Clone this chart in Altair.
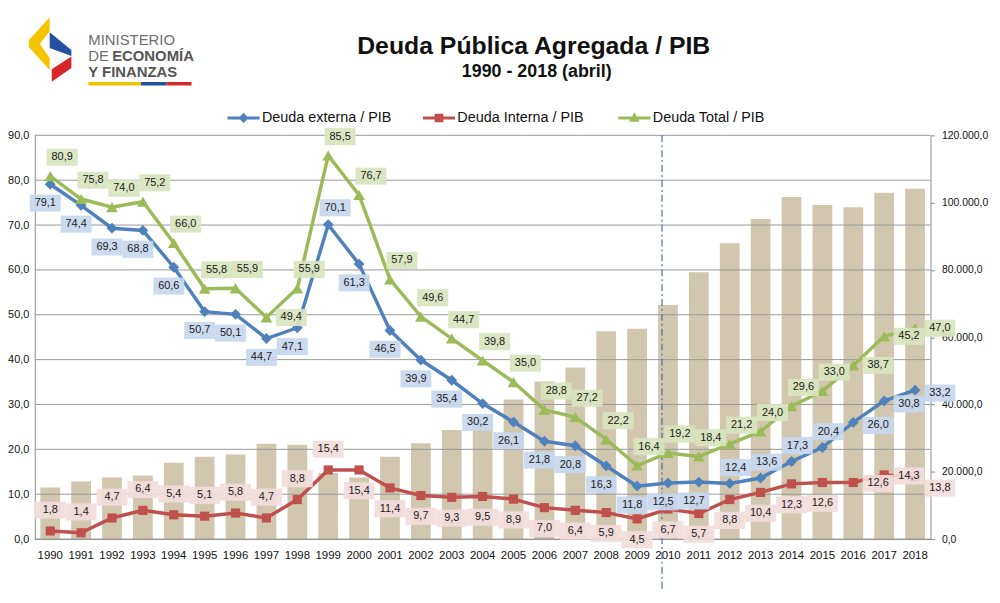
import altair as alt
import pandas as pd

years = ["1990", "1991", "1992", "1993", "1994", "1995", "1996", "1997", "1998", "1999",
         "2000", "2001", "2002", "2003", "2004", "2005", "2006", "2007", "2008", "2009",
         "2010", "2011", "2012", "2013", "2014", "2015", "2016", "2017", "2018"]
pib = [15300, 17100, 18300, 18900, 22700, 24500, 25100, 28300, 28000, 19600,
       18300, 24500, 28500, 32400, 36600, 41500, 46800, 51000, 61800, 62500,
       69600, 79300, 87900, 95100, 101700, 99300, 98600, 102900, 104100]
externa = [79.1, 74.4, 69.3, 68.8, 60.6, 50.7, 50.1, 44.7, 47.1, 70.1,
           61.3, 46.5, 39.9, 35.4, 30.2, 26.1, 21.8, 20.8, 16.3, 11.8,
           12.5, 12.7, 12.4, 13.6, 17.3, 20.4, 26.0, 30.8, 33.2]
interna = [1.8, 1.4, 4.7, 6.4, 5.4, 5.1, 5.8, 4.7, 8.8, 15.4,
           15.4, 11.4, 9.7, 9.3, 9.5, 8.9, 7.0, 6.4, 5.9, 4.5,
           6.7, 5.7, 8.8, 10.4, 12.3, 12.6, 12.6, 14.3, 13.8]
total = [80.9, 75.8, 74.0, 75.2, 66.0, 55.8, 55.9, 49.4, 55.9, 85.5,
         76.7, 57.9, 49.6, 44.7, 39.8, 35.0, 28.8, 27.2, 22.2, 16.4,
         19.2, 18.4, 21.2, 24.0, 29.6, 33.0, 38.7, 45.2, 47.0]
series = ["Deuda externa / PIB", "Deuda Interna / PIB", "Deuda Total / PIB"]
colors = ["#4F81BD", "#C0504D", "#9BBB59"]
box_colors = ["#C6D7EE", "#F2DCDB", "#D8E4BE"]
left_ticks = [0, 10, 20, 30, 40, 50, 60, 70, 80, 90]
right_ticks = [0, 20000, 40000, 60000, 80000, 100000, 120000]
title = "Deuda Pública Agregada / PIB"
subtitle = "1990 - 2018 (abril)"

FONT = "Liberation Sans"

bars_df = pd.DataFrame({"year": years, "pib": pib})
rows = []
for name, vals in zip(series, [externa, interna, total]):
    for y, v in zip(years, vals):
        rows.append({"year": y, "yr": int(y), "serie": name, "value": v})
df = pd.DataFrame(rows)
grid_df = pd.DataFrame({"value": left_ticks})
vline_df = pd.DataFrame({"year": ["2010"], "value": [90], "bot": [-11.5]})

xscale = alt.Scale(domain=years, paddingInner=0.36, paddingOuter=0.18)
X = alt.X("year:N", scale=xscale,
          axis=alt.Axis(title=None, labelAngle=0, ticks=False, domainColor="#8c8c8c",
                        labelFontSize=11.5, labelColor="#111111", labelPadding=11,
                        labelFont=FONT))
Y = alt.Y("value:Q", scale=alt.Scale(domain=[0, 90], nice=False),
          axis=alt.Axis(title=None, values=left_ticks, grid=False, ticks=False,
                        domainColor="#8c8c8c", labelFontSize=11, labelColor="#111111",
                        labelPadding=6, labelFont=FONT,
                        labelExpr="replace(format(datum.value, '.1f'), '.', ',')"))

bars = alt.Chart(bars_df).mark_bar(color="#D1C7AF").encode(
    x=X,
    y=alt.Y("pib:Q", scale=alt.Scale(domain=[0, 120000], nice=False),
            axis=alt.Axis(title=None, orient="right", values=right_ticks, grid=False,
                          tickColor="#8c8c8c", tickSize=4, domainColor="#8c8c8c",
                          labelFontSize=10.5, labelColor="#111111", labelPadding=7,
                          labelFont=FONT,
                          labelExpr="replace(replace(replace(format(datum.value, ',.1f'), ',', '#'), '.', ','), '#', '.')")),
)

grid = alt.Chart(grid_df).mark_rule(color="#999999", strokeWidth=1).encode(y=Y)

vline = alt.Chart(vline_df).mark_rule(color="#4a6fa5", strokeWidth=1.2,
                                       strokeDash=[7, 3, 2, 3], xOffset=-6).encode(
    x=X, y=Y, y2="bot:Q")

cscale = alt.Scale(domain=series, range=colors)

# one line + marker layer per series (fixed colours)
series_layers = []
for name, col, shp, sz in zip(series, colors, ["diamond", "square", "triangle-up"], [120, 85, 140]):
    base = alt.Chart(df).transform_filter(alt.datum.serie == name)
    series_layers.append(base.mark_line(strokeWidth=3.5, color=col).encode(x=X, y=Y))
for name, col, shp, sz in zip(series, colors, ["diamond", "square", "triangle-up"], [120, 85, 140]):
    base = alt.Chart(df).transform_filter(alt.datum.serie == name)
    series_layers.append(base.mark_point(shape=shp, size=sz, filled=True, color=col,
                                         opacity=1, strokeWidth=0).encode(x=X, y=Y))

# legend (line segment + marker symbols), drawn from an invisible layer
legend_paths = [
    "M-1,-0.09H1V0.09H-1ZM0,-0.32L0.32,0L0,0.32L-0.32,0Z",
    "M-1,-0.09H1V0.09H-1ZM-0.27,-0.27H0.27V0.27H-0.27Z",
    "M-1,-0.09H1V0.09H-1ZM0,-0.36L0.33,0.24L-0.33,0.24Z",
]
leg = alt.Legend(title=None, orient="none", legendX=194, legendY=-34,
                 direction="horizontal", columns=3, gridAlign="all",
                 columnPadding=31, symbolSize=1050, symbolStrokeWidth=0,
                 symbolOpacity=1, labelFontSize=14.5, labelFont=FONT,
                 labelColor="#111111", labelOffset=2)
legend_layer = alt.Chart(df).mark_point(filled=True, size=10, opacity=0).encode(
    x=X, y=Y,
    color=alt.Color("serie:N", scale=cscale, legend=leg),
    shape=alt.Shape("serie:N", scale=alt.Scale(domain=series, range=legend_paths), legend=leg),
)

BOX = "M-0.78,-0.43H0.78V0.43H-0.78Z"


def label_layers(serie, box_color, cond, dx, dy):
    base = alt.Chart(df).transform_filter(alt.datum.serie == serie).transform_filter(cond)
    box = base.mark_point(shape=BOX, size=1600, filled=True, fill=box_color,
                          opacity=0.92, strokeWidth=0, xOffset=dx, yOffset=dy).encode(x=X, y=Y)
    txt = base.transform_calculate(
        label="replace(format(datum.value, '.1f'), '.', ',')"
    ).mark_text(dx=dx, dy=dy, fontSize=11, font=FONT, color="#1a1a1a",
                align="center", baseline="middle").encode(x=X, y=Y, text="label:N")
    return [box, txt]


label_specs = [
    # externa
    (series[0], box_colors[0], "datum.yr <= 2011 && datum.yr != 1999", -5, 19),
    (series[0], box_colors[0], "datum.yr == 1999", 7, -17),
    (series[0], box_colors[0], "datum.yr >= 2012 && datum.yr <= 2015", 6, -16),
    (series[0], box_colors[0], "datum.yr >= 2016", 25, 3),
    # interna
    (series[1], box_colors[1], "datum.yr <= 1999", 0, -21),
    (series[1], box_colors[1], "datum.yr >= 2000 && datum.yr <= 2015", 0, 21),
    (series[1], box_colors[1], "datum.yr >= 2016 && datum.yr <= 2017", 25, 1),
    (series[1], box_colors[1], "datum.yr == 2018", 25, 11),
    # total
    (series[2], box_colors[2], "datum.yr <= 2015 && datum.yr != 1997", 12, -19),
    (series[2], box_colors[2], "datum.yr == 1997 || datum.yr >= 2016", 25, 0),
]
label_layers_all = []
for spec in label_specs:
    label_layers_all += label_layers(*spec)

one = pd.DataFrame({"t": [""]})
title_txt = alt.Chart(pd.DataFrame({"t": [title]})).mark_text(
    fontSize=25, fontWeight="bold", font=FONT, color="#111111", align="center",
    baseline="alphabetic").encode(text="t:N", x=alt.value(503), y=alt.value(-82))
sub_txt = alt.Chart(pd.DataFrame({"t": [subtitle]})).mark_text(
    fontSize=18, fontWeight="bold", font=FONT, color="#111111", align="center",
    baseline="alphabetic").encode(text="t:N", x=alt.value(506), y=alt.value(-59))

logo_layers = []
for txt, x, y, w, c in [("MINISTERIO", 54, -91, "normal", "#6e6e6e"),
                        ("DE", 54, -75, "normal", "#6e6e6e"),
                        ("ECONOMÍA", 78, -75, "bold", "#555555"),
                        ("Y FINANZAS", 54, -59, "bold", "#555555")]:
    logo_layers.append(alt.Chart(pd.DataFrame({"t": [txt]})).mark_text(
        fontSize=15, fontWeight=w, font=FONT, color=c, align="left",
        baseline="alphabetic").encode(text="t:N", x=alt.value(x), y=alt.value(y)))
for c, x1, x2 in [("#F2C200", 54, 107), ("#22509E", 107, 133), ("#D62B2B", 133, 158)]:
    logo_layers.append(alt.Chart(one).mark_rule(color=c, strokeWidth=3.5).encode(
        x=alt.value(x1), x2=alt.value(x2), y=alt.value(-52)))
for c, path in [("#F5C400", "M0,-1.1L-0.7,-0.33L-0.7,-0.1L0,0.67L0,0.27L-0.33,-0.2L0,-0.63Z"),
                ("#2350A0", "M0,-0.6L0.73,0L0.73,0.2L0,-0.07Z"),
                ("#D9262B", "M0.73,0.22L0.73,0.6L0.07,1.07L0.07,0.65Z")]:
    logo_layers.append(alt.Chart(one).mark_point(shape=path, size=3600, filled=True,
                                                  fill=c, opacity=1, strokeWidth=0).encode(
        x=alt.value(15), y=alt.value(-86)))

inner = alt.layer(grid, vline, *series_layers, legend_layer, *label_layers_all,
                  title_txt, sub_txt, *logo_layers)

chart = alt.layer(bars, inner).resolve_scale(y="independent").properties(
    width=903, height=407,
    autosize=alt.AutoSizeParams(type="none"),
    padding={"left": 27, "top": 126, "right": 62, "bottom": 50},
    background="white",
).configure_view(strokeWidth=0)

chart.save("out.html", embed_options={"renderer": "svg", "actions": False})
